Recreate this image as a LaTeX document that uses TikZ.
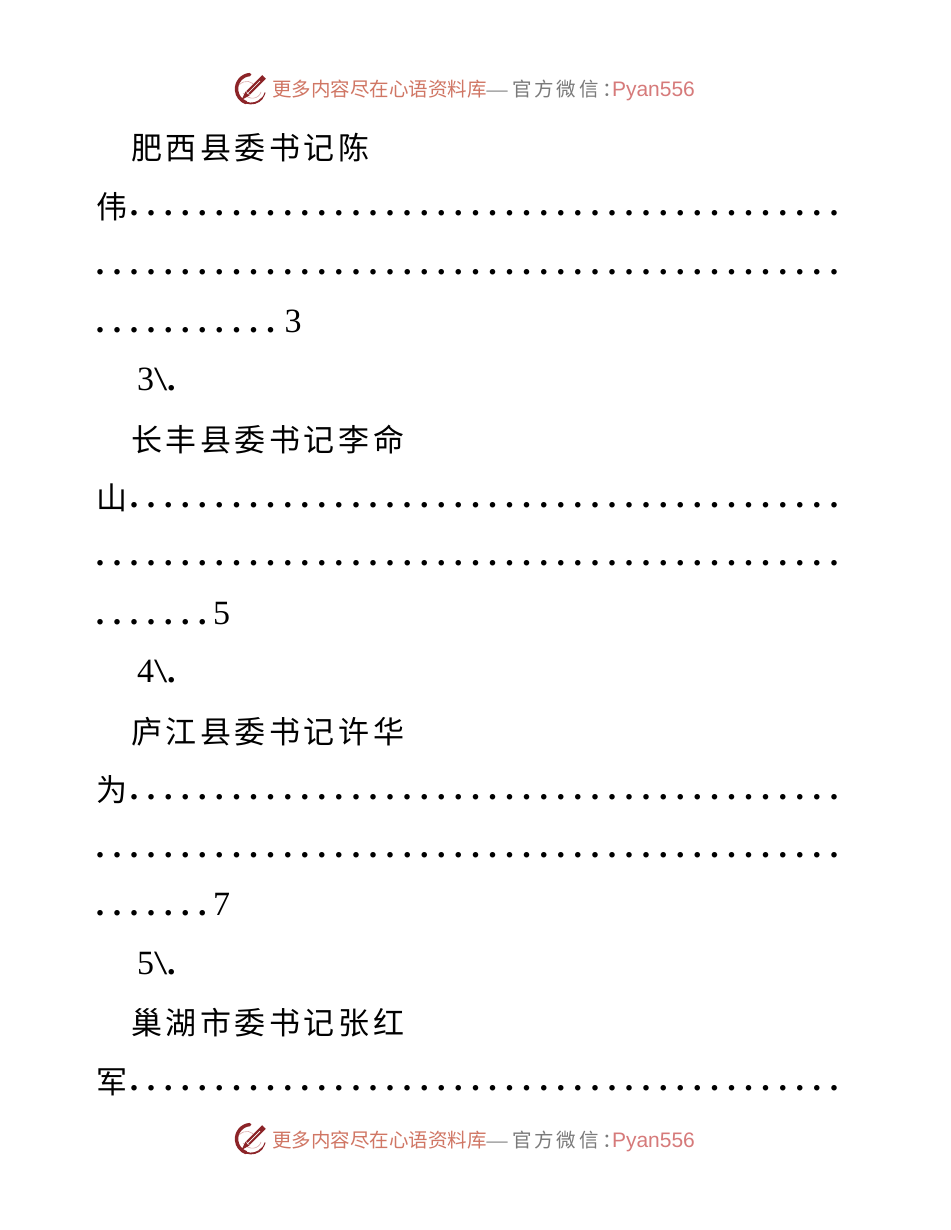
\documentclass[tikz,border=0pt]{standalone}
\usepackage{graphicx}
\usepackage{fontspec}
\setmainfont{Liberation Serif}
\newfontfamily\cjkf{Noto Sans CJK SC}
\newfontfamily\hsans{Liberation Sans}
\definecolor{hred}{RGB}{208,118,100}
\definecolor{hpink}{RGB}{214,122,122}
\definecolor{hgray}{RGB}{122,122,122}
\definecolor{logored}{RGB}{140,36,40}
\definecolor{logolight}{RGB}{220,170,170}
\newcount\dotcnt
\newcommand\dotrow[1]{\dotcnt=0\relax\loop\ifnum\dotcnt<#1\relax\makebox[17.07pt][c]{\textbf{.}}\advance\dotcnt by 1\relax\repeat}
\newcommand\cjcell[1]{\makebox[34.6pt][c]{\raisebox{-2.3pt}{\cjkf\fontsize{31}{31}\selectfont #1}}}
\def\cjrow#1{\cjrowi#1\relax}
\def\cjrowi#1{\ifx\relax#1\else\cjcell{#1}\expandafter\cjrowi\fi}
\newcommand\leadch[1]{\makebox[34.14pt][c]{\hspace{6pt}\raisebox{-2.3pt}{\cjkf\fontsize{31}{31}\selectfont #1}}}
\newcommand\hcell[1]{\makebox[22.5pt][c]{#1}}
\newcommand\numhead[1]{#1\scalebox{1.4}[1]{\textbackslash}\textbf{.}}
\tikzset{
  ln/.style={anchor=base west, inner sep=0pt, outer sep=0pt, font=\fontsize{34}{34}\selectfont},
  hd/.style={anchor=base west, inner sep=0pt, outer sep=0pt},
}
\newcommand\banner[1]{%
  \begin{scope}[shift={(251,89)}, y=1pt]
    \draw[logored, line width=3.4pt, line cap=round] (95:14.5) arc[start angle=95, end angle=250, radius=14.5];
    \draw[logored, line width=1.8pt, line cap=round] (250:14.5) arc[start angle=250, end angle=320, radius=14.5];
    \draw[logored, line width=1pt, line cap=round] (320:14.5) arc[start angle=320, end angle=345, radius=14.5];
    \draw[logolight, line width=0.6pt] (-12,4) .. controls (-6,10) and (2,8) .. (4,2);
    \draw[logolight, line width=0.6pt] (-8,-4) .. controls (-2,-12) and (8,-10) .. (10,-3);
    \draw[logored, line width=5pt] (13,12) -- (-3,-4);
    \fill[logored] (-1.5,-6.5) -- (-9.5,-11) -- (-5.5,-2.5) -- cycle;
    \draw[white, line width=0.7pt] (9,8) -- (-4,-5);
  \end{scope}
  \node[hd, text=hred, font=\cjkf\fontsize{19.5}{20}\selectfont] (#1a) at (272,97) {更多内容尽在心语资料库};
  \node[hd, text=hgray, font=\fontsize{21}{21}\selectfont] (#1b) at (#1a.base east) {—};
  \node[hd, text=hgray, font=\cjkf\fontsize{19.5}{20}\selectfont, xshift=3pt] (#1c) at (#1b.base east) {\hcell{官}\hcell{方}\hcell{微}\hcell{信}\hcell{：}};
  \node[hd, text=hpink, font=\hsans\fontsize{21}{21}\selectfont] (#1d) at (612,97) {Pyan556};
}
\begin{document}
\begin{tikzpicture}[x=1pt, y=-1pt]
\useasboundingbox (0,0) rectangle (950,1230);
\fill[white] (0,0) rectangle (950,1230);

\banner{h}
\begin{scope}[yshift=-1050pt]
\banner{f}
\end{scope}

\node[ln] (r0)  at (129.2,157.5)  {\cjrow{肥西县委书记陈}};
\node[ln] (r1)  at (91.47,215.83) {\leadch{伟}\dotrow{42}};
\node[ln] (r2)  at (91.47,274.16) {\dotrow{44}};
\node[ln] (r3)  at (91.47,332.49) {\dotrow{11}\hspace{5.5pt}3};
\node[ln] (r4)  at (137,390.82)   {\numhead{3}};
\node[ln] (r5)  at (129.2,449.15) {\cjrow{长丰县委书记李命}};
\node[ln] (r6)  at (91.47,507.48) {\leadch{山}\dotrow{42}};
\node[ln] (r7)  at (91.47,565.81) {\dotrow{44}};
\node[ln] (r8)  at (91.47,624.14) {\dotrow{7}\hspace{2.2pt}5};
\node[ln] (r9)  at (137,682.47)   {\numhead{4}};
\node[ln] (r10) at (129.2,740.8)  {\cjrow{庐江县委书记许华}};
\node[ln] (r11) at (91.47,799.13) {\leadch{为}\dotrow{42}};
\node[ln] (r12) at (91.47,857.46) {\dotrow{44}};
\node[ln] (r13) at (91.47,915.79) {\dotrow{7}\hspace{2.2pt}7};
\node[ln] (r14) at (137,974.12)   {\numhead{5}};
\node[ln] (r15) at (129.2,1032.45){\cjrow{巢湖市委书记张红}};
\node[ln] (r16) at (91.47,1090.78){\leadch{军}\dotrow{42}};
\end{tikzpicture}
\end{document}
